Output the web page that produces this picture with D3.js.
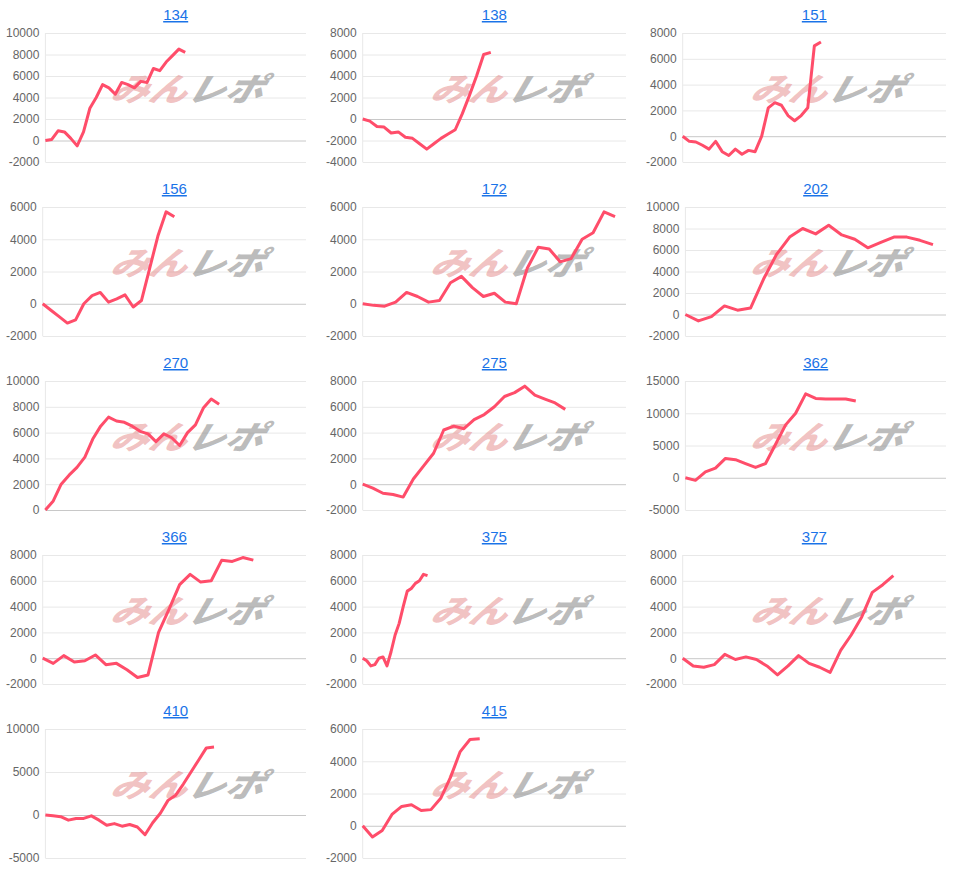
<!DOCTYPE html>
<html><head><meta charset="utf-8">
<script src="https://cdn.jsdelivr.net/npm/d3@7"></script>
<style>body{margin:0;background:#fff;font-family:Arial,"Liberation Sans",sans-serif}</style>
</head><body><svg id="c" width="969" height="871"></svg>
<script>
const titles = ["134","138","151","156","172","202","270","275","362","366","375","377","410","415"];
const v134 = [0,100,900,800,200,-500,800,3000,4000,5200,4900,4300,5400,5200,4900,5500,5400,6700,6500,7300,7900,8500,8200];
const v138 = [0,-200,-700,-750,-1300,-1200,-1700,-1800,-2300,-2800,-2300,-1800,-1400,-1000,500,2200,4000,6000,6200];
const v151 = [0,-400,-450,-700,-1000,-400,-1200,-1500,-1000,-1400,-1100,-1200,0,2200,2600,2400,1600,1200,1600,2200,7000,7300];
const v156 = [0,-400,-800,-1200,-1000,0,500,700,100,300,550,-200,200,2200,4200,5700,5400];
const v172 = [0,-100,-150,100,700,450,100,200,1300,1700,1000,450,650,100,0,2200,3500,3400,2600,2800,4000,4400,5700,5400];
const v202 = [0,-600,-200,800,400,600,3300,5600,7200,8000,7500,8300,7400,7000,6200,6700,7200,7200,6900,6500];
const v270 = [0,700,2000,2700,3300,4100,5500,6500,7200,6900,6800,6500,6100,5900,5300,5900,5600,5000,6000,6600,7900,8600,8200];
const v275 = [0,-300,-700,-800,-1000,400,1400,2400,4200,4500,4300,5000,5400,6000,6800,7100,7600,6900,6600,6300,5800];
const v362 = [0,-400,900,1500,3000,2800,2200,1600,2200,5200,8200,10000,13000,12300,12200,12200,12200,11900];
const v366 = [0,-400,200,-300,-200,250,-500,-400,-900,-1500,-1300,2000,3800,5700,6500,5900,6000,7600,7500,7800,7600];
const v375 = [0,-200,-600,-500,0,100,-600,500,1800,2700,4000,5200,5400,5800,6000,6500,6400];
const v377 = [0,-600,-700,-500,300,-100,100,-100,-600,-1300,-600,200,-400,-700,-1100,600,1800,3200,5100,5700,6400];
const v410 = [0,-100,-200,-600,-400,-400,-100,-600,-1200,-1000,-1300,-1100,-1400,-2300,-900,200,1700,2300,3600,5000,6400,7800,7900];
const v415 = [0,-700,-300,700,1200,1300,950,1000,1700,3000,4600,5350,5400];
const seriesList = [v134,v138,v151,v156,v172,v202,v270,v275,v362,v366,v375,v377,v410,v415];
// total x slots each series' axis spans
const slots = [42,38,41,33,25,21,34,27,27,26,66,26,35,28];
const yMin = [-2000,-4000,-2000,-2000,-2000,-2000,0,-2000,-5000,-2000,-2000,-2000,-5000,-2000];
const yMax = [10000,8000,8000,6000,6000,10000,10000,8000,15000,8000,8000,8000,10000,6000];
const yStep = [2000,2000,2000,2000,2000,2000,2000,2000,5000,2000,2000,2000,5000,2000];

const svg = d3.select("#c");
const colW = 320, rowH = 174;
const meas = svg.append("text").attr("font-size",12);
titles.forEach((t,i)=>{
  const col=i%3,row=Math.floor(i/3);
  const x0=col*colW, top=row*rowH+33, bot=row*rowH+162;
  const ticks=d3.range(yMin[i],yMax[i]+1,yStep[i]);
  let lw=0; ticks.forEach(v=>{meas.text(v);lw=Math.max(lw,meas.node().getComputedTextLength());});
  const L=x0+lw+12, R=x0+306;
  const x=d3.scaleLinear().domain([0,slots[i]-1]).range([L,R]);
  const y=d3.scaleLinear().domain([yMin[i],yMax[i]]).range([bot,top]);
  const g=svg.append("g");
  g.append("g").attr("transform",`translate(${L},0)`)
   .call(d3.axisLeft(y).tickValues(ticks).tickSize(-(R-L)).tickPadding(6).tickFormat(d=>d))
   .call(a=>{a.select(".domain").remove();
     a.selectAll(".tick line").attr("stroke",d=>d===0?"#c8c8c8":"#e8e8e8");
     a.selectAll("text").attr("fill","#666").attr("font-size",12).attr("font-family","Arial,Liberation Sans");});
  g.append("line").attr("x1",L).attr("x2",L).attr("y1",top).attr("y2",bot).attr("stroke","#e8e8e8");
  // watermark
  const wx=x0+185, wy=row*rowH+101;
  const wm=g.append("text").attr("x",0).attr("y",0).attr("text-anchor","middle")
   .attr("font-size",34).attr("font-weight",900).attr("font-style","italic").attr("font-family","Noto Sans CJK JP")
   .attr("transform",`translate(${wx},${wy}) scale(1.12,0.95) skewX(-14)`);
  wm.append("tspan").text("みん").attr("fill","rgba(225,120,120,0.45)");
  wm.append("tspan").text("レポ").attr("fill","rgba(130,130,130,0.55)");
  g.append("path").datum(seriesList[i]).attr("fill","none").attr("stroke","#ff4d6a").attr("stroke-width",3)
   .attr("stroke-linejoin","round")
   .attr("d",d3.line().x((d,j)=>x(j)).y(d=>y(d)));
  g.append("text").attr("x",(L+R)/2).attr("y",row*rowH+20).attr("text-anchor","middle")
   .attr("font-size",15).attr("fill","#1a73e8").attr("text-decoration","underline").text(t);
});
meas.remove();
</script></body></html>
